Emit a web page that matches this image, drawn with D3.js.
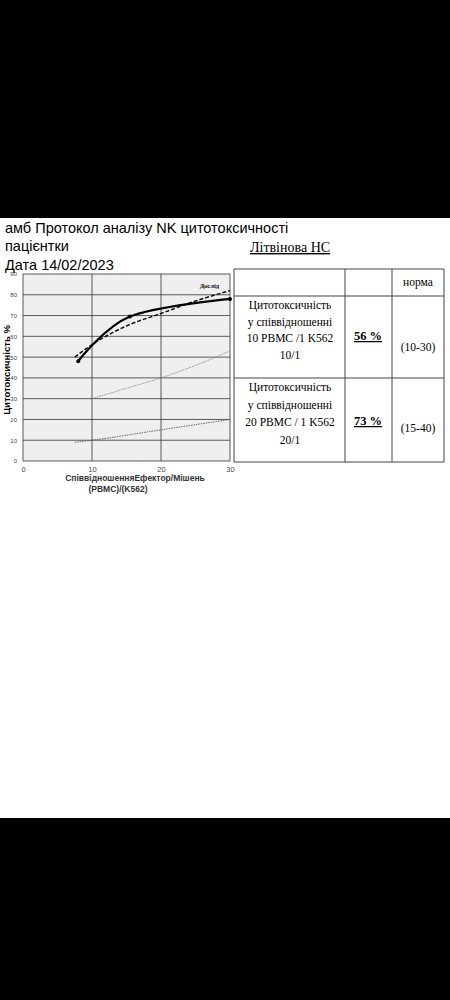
<!DOCTYPE html><html><head><meta charset="utf-8"><script src="https://cdn.jsdelivr.net/npm/d3@7"></script>
<style>body{margin:0;background:#000}</style></head><body><svg id="c" width="450" height="1000"></svg><script>
const xTicks=[0,10,20,30], yTicks=[0,10,20,30,40,50,60,70,80,90];
const measured=[[8,48],[15.5,69.5],[30,78]];
const trend=[[7.5,50],[10,56],[15,65],[20,71],[25,77],[30,82]];
const upperNorm=[[10,30],[15,35],[20,40],[25,46],[30,53]];
const lowerNorm=[[7.5,9],[10,10],[20,15],[30,20]];
const svg=d3.select("#c");
svg.append("rect").attr("x",0).attr("y",218).attr("width",450).attr("height",600).attr("fill","#fff");
const x=d3.scaleLinear().domain([0,30]).range([23,230]);
const y=d3.scaleLinear().domain([0,90]).range([461,274]);
svg.append("rect").attr("x",x(0)).attr("y",y(90)).attr("width",x(30)-x(0)).attr("height",y(0)-y(90)).attr("fill","#efefef");
const g=svg.append("g");
yTicks.forEach(t=>g.append("line").attr("x1",x(0)).attr("x2",x(30)).attr("y1",y(t)).attr("y2",y(t)).attr("stroke","#333").attr("stroke-width",0.8));
xTicks.forEach(t=>g.append("line").attr("x1",x(t)).attr("x2",x(t)).attr("y1",y(0)).attr("y2",y(90)).attr("stroke","#333").attr("stroke-width",0.8));
svg.append("g").attr("transform",`translate(0,${y(0)})`).call(d3.axisBottom(x).tickValues(xTicks).tickSize(0).tickPadding(6)).call(a=>a.select(".domain").remove()).selectAll("text").attr("font-size",7.5).attr("font-family","Liberation Sans").attr("fill","#444");
svg.append("g").attr("transform",`translate(${x(0)},0)`).call(d3.axisLeft(y).tickValues(yTicks).tickSize(0).tickPadding(6)).call(a=>a.select(".domain").remove()).selectAll("text").attr("font-size",6).attr("font-family","Liberation Sans").attr("fill","#444");
const L=d3.line().x(d=>x(d[0])).y(d=>y(d[1])).curve(d3.curveMonotoneX);
svg.append("path").attr("d",L(lowerNorm)).attr("fill","none").attr("stroke","#556").attr("stroke-width",0.9).attr("stroke-dasharray","1.5,1");
svg.append("path").attr("d",L(upperNorm)).attr("fill","none").attr("stroke","#888").attr("stroke-width",0.9).attr("stroke-dasharray","1.5,1");
svg.append("path").attr("d",L(trend)).attr("fill","none").attr("stroke","#111").attr("stroke-width",1.5).attr("stroke-dasharray","4,2");
svg.append("path").attr("d",d3.line().x(d=>x(d[0])).y(d=>y(d[1])).curve(d3.curveCardinal)(measured)).attr("fill","none").attr("stroke","#000").attr("stroke-width",2.2);
measured.forEach(d=>svg.append("circle").attr("cx",x(d[0])).attr("cy",y(d[1])).attr("r",2).attr("fill","#000"));
svg.append("text").attr("x",219).attr("y",288).attr("font-size",6.5).attr("font-family","Liberation Serif").attr("font-weight","bold").attr("text-anchor","end").text("Дослід");
svg.append("text").attr("x",135).attr("y",481).attr("text-anchor","middle").attr("font-size",8.5).attr("font-weight","bold").attr("font-family","Liberation Sans").attr("fill","#333").text("СпіввідношенняЕфектор/Мішень");
svg.append("text").attr("x",118).attr("y",492).attr("text-anchor","middle").attr("font-size",8.5).attr("font-weight","bold").attr("font-family","Liberation Sans").attr("fill","#333").text("(PBMC)/(K562)");
svg.append("text").attr("transform","translate(10,370) rotate(-90)").attr("text-anchor","middle").attr("font-size",9.5).attr("font-weight","bold").attr("font-family","Liberation Sans").text("Цитотоксичність %");
[["амб Протокол  аналізу NK цитотоксичності",233],["пацієнтки",251],["Дата 14/02/2023",270]].forEach(([t,yy])=>svg.append("text").attr("x",5).attr("y",yy).attr("font-family","Liberation Sans").attr("font-size",14.5).text(t));
svg.append("text").attr("x",250).attr("y",252).attr("font-family","Liberation Serif").attr("font-size",14).attr("text-decoration","underline").text("Літвінова НС");
const cols=[234,345,392,444], rows=[269,296,378,462];
rows.forEach(r=>svg.append("line").attr("x1",cols[0]).attr("x2",cols[3]).attr("y1",r).attr("y2",r).attr("stroke","#444"));
cols.forEach(c=>svg.append("line").attr("x1",c).attr("x2",c).attr("y1",rows[0]).attr("y2",rows[3]).attr("stroke","#444"));
const T=(t,xx,yy,o={})=>svg.append("text").attr("x",xx).attr("y",yy).attr("text-anchor","middle").attr("font-family","Liberation Serif").attr("font-size",o.s||11.5).attr("font-weight",o.b?"bold":"normal").attr("text-decoration",o.u?"underline":"none").text(t);
T("норма",418,286);
["Цитотоксичність","у співвідношенні","10 PBMC /1 K562","10/1"].forEach((t,i)=>T(t,290,309+i*16.5));
["Цитотоксичність","у співвідношенні","20 PBMC / 1 K562","20/1"].forEach((t,i)=>T(t,290,391+i*17.5));
T("56 %",368,340,{b:1,u:1,s:12.5}); T("73 %",368,425,{b:1,u:1,s:12.5});
T("(10-30)",418,351); T("(15-40)",418,432);
</script></body></html>
